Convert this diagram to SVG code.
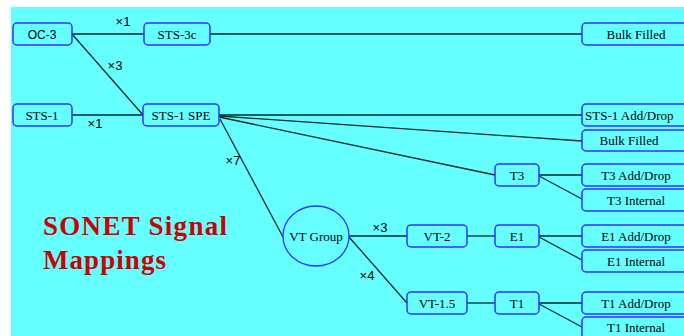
<svg xmlns="http://www.w3.org/2000/svg" width="684" height="336" viewBox="0 0 684 336">
<style>
.n rect{fill:#66FFFF;stroke:#3333FF;stroke-width:1.5}
.n ellipse{fill:#66FFFF;stroke:#3333FF;stroke-width:1.3}
.n text{font-family:"Liberation Serif",serif;font-size:13px;fill:#000;text-anchor:middle}
#edges line{stroke:#0a2a2a;stroke-width:1.3}
.lab{font-family:"Liberation Sans",sans-serif;font-size:13px;fill:#000;text-anchor:middle}
.title{font-family:"Liberation Serif",serif;font-size:27px;font-weight:bold;fill:#CC0000}
</style>
<rect x="0" y="0" width="684" height="336" fill="#FFFFFF"/>
<rect x="11" y="7" width="673" height="329" fill="#66FFFF"/>
<g id="edges">
<line x1="72" y1="34" x2="144" y2="34"/>
<line x1="72" y1="34" x2="143" y2="115"/>
<line x1="72" y1="115" x2="143" y2="115"/>
<line x1="210" y1="34" x2="582" y2="34"/>
<line x1="219" y1="115" x2="582" y2="115"/>
<line x1="219" y1="116" x2="582" y2="141"/>
<line x1="219" y1="117" x2="495" y2="175"/>
<line x1="220" y1="119" x2="283" y2="237"/>
<line x1="349" y1="236" x2="407" y2="236"/>
<line x1="349" y1="237" x2="407" y2="303"/>
<line x1="467" y1="236" x2="495" y2="236"/>
<line x1="467" y1="303" x2="495" y2="303"/>
<line x1="539" y1="175" x2="582" y2="175"/>
<line x1="539" y1="176" x2="582" y2="199"/>
<line x1="539" y1="236" x2="582" y2="236"/>
<line x1="539" y1="237" x2="582" y2="260"/>
<line x1="539" y1="303" x2="582" y2="303"/>
<line x1="539" y1="304" x2="582" y2="327"/>
</g>
<g id="labels">
<text class="lab" x="123" y="26">×1</text>
<text class="lab" x="115" y="70">×3</text>
<text class="lab" x="95" y="128">×1</text>
<text class="lab" x="233" y="165">×7</text>
<text class="lab" x="380" y="232">×3</text>
<text class="lab" x="367" y="280">×4</text>
</g>
<g id="oc3" class="n"><rect x="13" y="23" width="59" height="22" rx="4"/><text x="42" y="39" style="font-family:'Liberation Sans',sans-serif;font-size:12px">OC-3</text></g>
<g id="sts3c" class="n"><rect x="144" y="23" width="66" height="22" rx="4"/><text x="177" y="39">STS-3c</text></g>
<g id="sts1" class="n"><rect x="13" y="104" width="59" height="22" rx="4"/><text x="42" y="120">STS-1</text></g>
<g id="sts1spe" class="n"><rect x="143" y="104" width="76" height="22" rx="4"/><text x="181" y="120">STS-1 SPE</text></g>
<g id="bulk1" class="n"><rect x="582" y="23" width="110" height="22" rx="4"/><text x="636" y="39">Bulk Filled</text></g>
<g id="sts1ad" class="n"><rect x="582" y="104" width="110" height="22" rx="4"/><text x="585" y="120" style="text-anchor:start">STS-1 Add/Drop</text></g>
<g id="bulk2" class="n"><rect x="582" y="130" width="110" height="21" rx="4"/><text x="629" y="145">Bulk Filled</text></g>
<g id="t3" class="n"><rect x="495" y="164" width="44" height="22" rx="4"/><text x="517" y="180">T3</text></g>
<g id="t3ad" class="n"><rect x="582" y="164" width="110" height="22" rx="4"/><text x="636" y="180">T3 Add/Drop</text></g>
<g id="t3int" class="n"><rect x="582" y="189" width="110" height="22" rx="4"/><text x="636" y="205">T3 Internal</text></g>
<g id="vtgroup" class="n"><ellipse cx="316" cy="236" rx="33" ry="30"/><text x="316" y="241">VT Group</text></g>
<g id="vt2" class="n"><rect x="407" y="225" width="60" height="22" rx="4"/><text x="437" y="241">VT-2</text></g>
<g id="e1" class="n"><rect x="495" y="225" width="44" height="22" rx="4"/><text x="517" y="241">E1</text></g>
<g id="e1ad" class="n"><rect x="582" y="225" width="110" height="22" rx="4"/><text x="636" y="241">E1 Add/Drop</text></g>
<g id="e1int" class="n"><rect x="582" y="250" width="110" height="22" rx="4"/><text x="636" y="266">E1 Internal</text></g>
<g id="vt15" class="n"><rect x="407" y="292" width="60" height="22" rx="4"/><text x="437" y="308">VT-1.5</text></g>
<g id="t1" class="n"><rect x="495" y="292" width="44" height="22" rx="4"/><text x="517" y="308">T1</text></g>
<g id="t1ad" class="n"><rect x="582" y="292" width="110" height="22" rx="4"/><text x="636" y="308">T1 Add/Drop</text></g>
<g id="t1int" class="n"><rect x="582" y="317" width="110" height="22" rx="4"/><text x="636" y="332">T1 Internal</text></g>
<g id="title">
<text class="title" x="43" y="235" textLength="184" lengthAdjust="spacing">SONET Signal</text>
<text class="title" x="43" y="269" textLength="123" lengthAdjust="spacing">Mappings</text>
</g>
</svg>
